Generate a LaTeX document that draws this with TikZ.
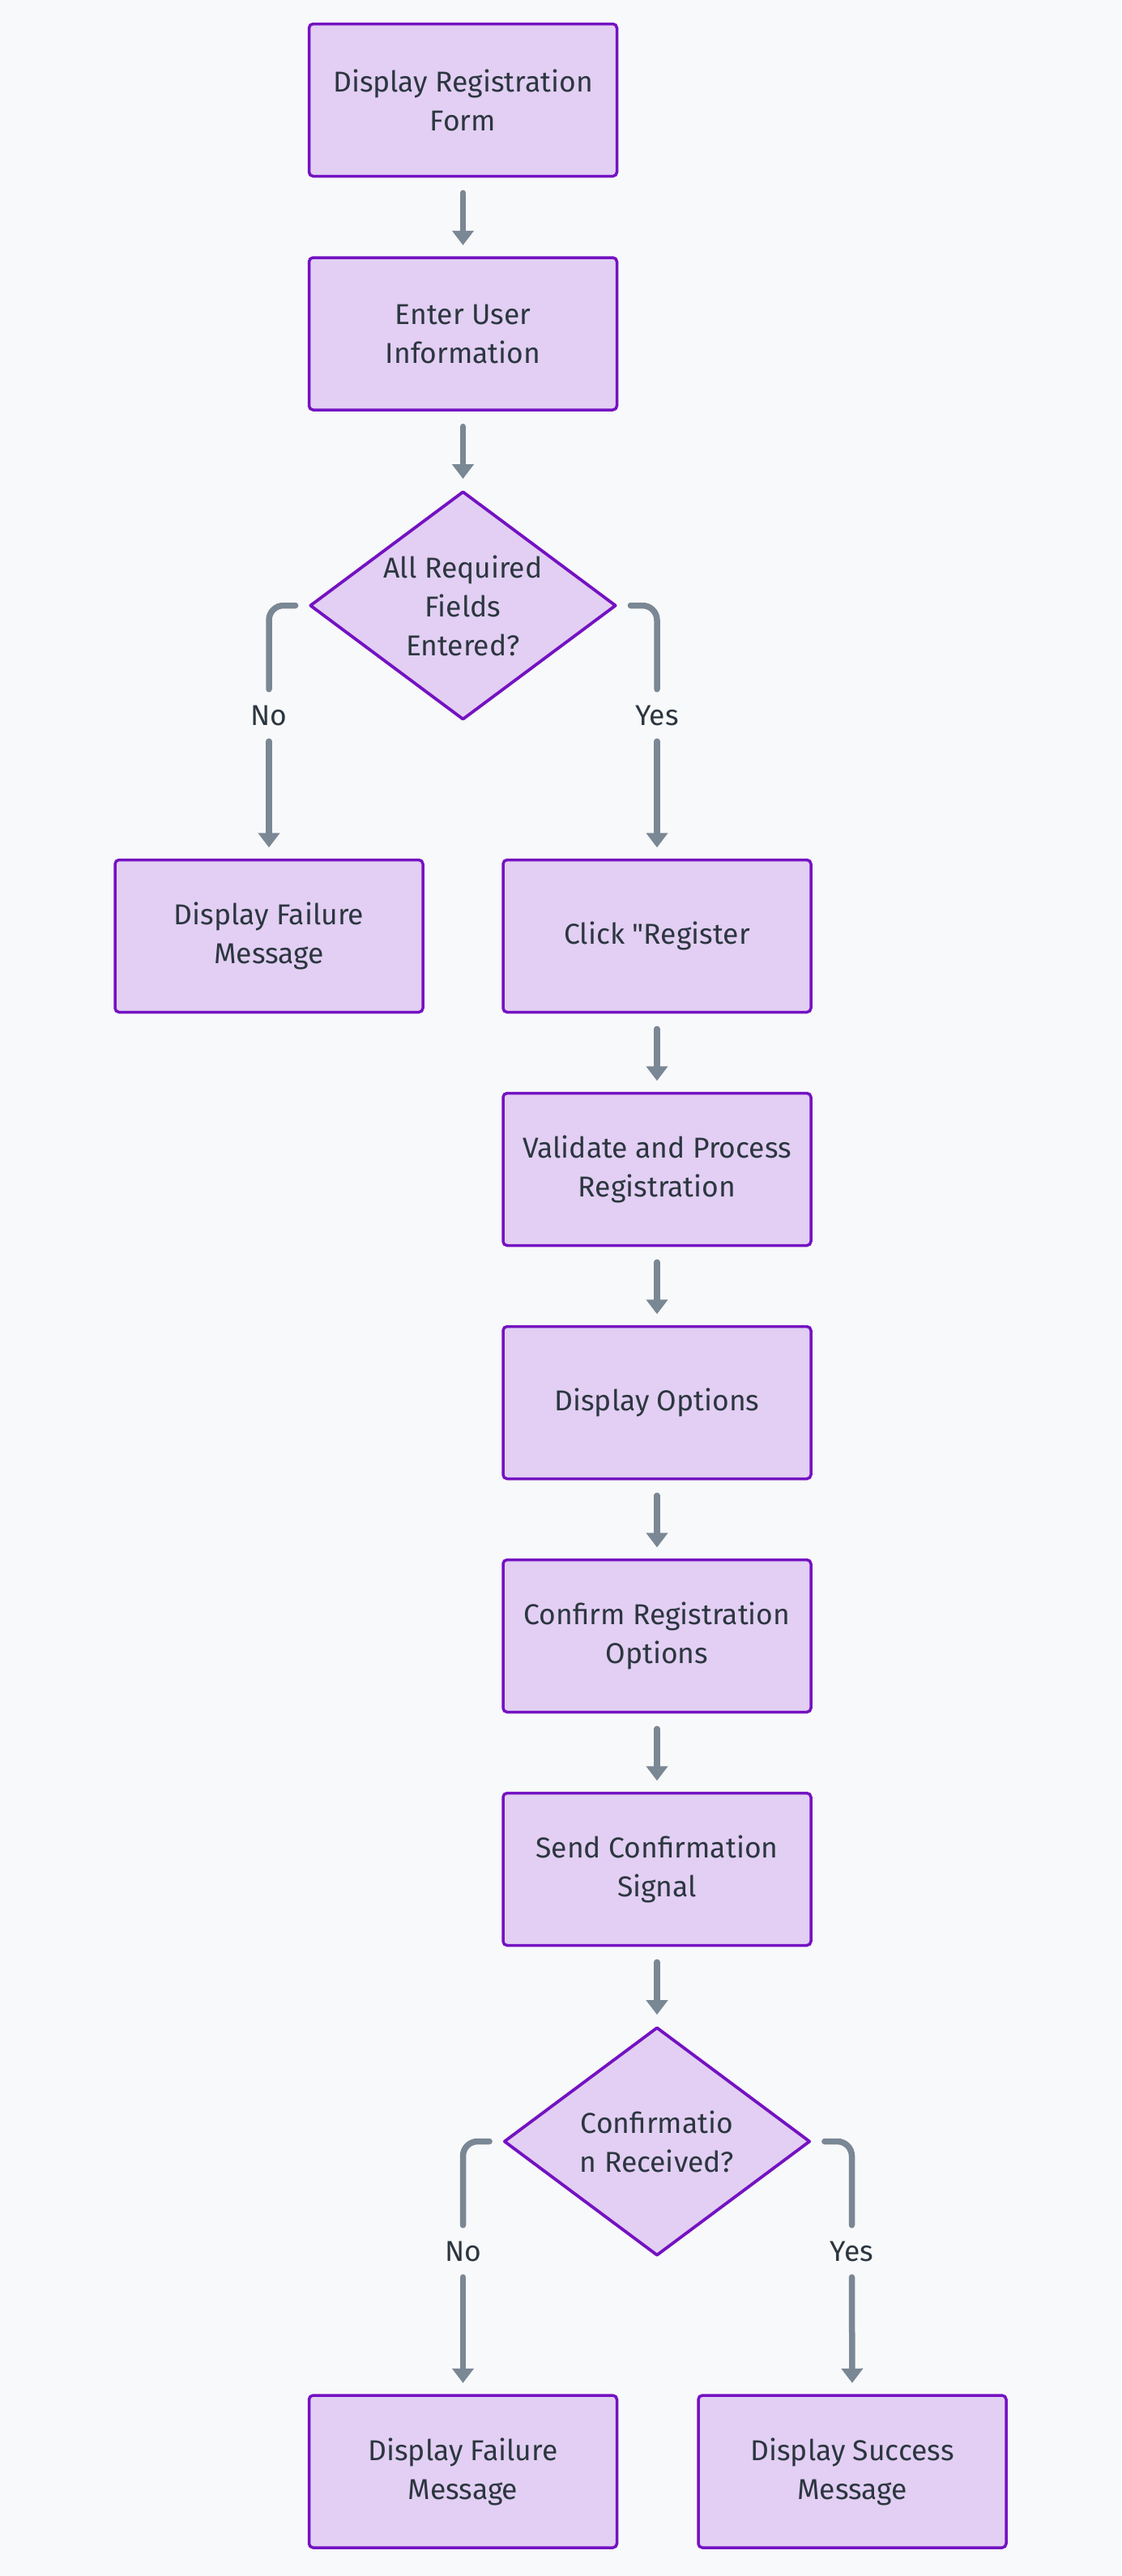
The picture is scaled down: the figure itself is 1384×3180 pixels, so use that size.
\documentclass[tikz,border=0pt]{standalone}
\usepackage{fontspec}
\setmainfont{Fira Sans}[Ligatures=TeXOff]
\usetikzlibrary{arrows.meta,shapes.geometric}
\definecolor{bg}{HTML}{F8F9FA}
\definecolor{boxfill}{HTML}{E2CFF3}
\definecolor{boxdraw}{HTML}{7412C2}
\definecolor{edge}{HTML}{7A8794}
\definecolor{ink}{HTML}{2C3640}
\begin{document}
\begin{tikzpicture}[x=1pt,y=-1pt,
  every node/.style={font=\fontsize{35.5}{48}\selectfont, text=ink},
  proc/.style={draw=boxdraw, fill=boxfill, line width=3.5pt, rounded corners=5pt,
    minimum width=380pt, minimum height=188pt, align=center, inner sep=0pt},
  decision/.style={diamond, draw=boxdraw, fill=boxfill, line width=3.8pt, line join=round,
    minimum width=378pt, minimum height=282pt, inner sep=0pt},
  dtext/.style={align=center, inner sep=0pt},
  conn/.style={draw=edge, line width=7.5pt, line cap=round, rounded corners=18pt},
  arr/.style={conn, -{Triangle[width=26pt,length=18pt]}, shorten >=13.5pt},
  flow/.style={arr, shorten <=19pt},
  elabel/.style={inner sep=0pt, minimum height=64pt},
]
\fill[bg] (0,0) rectangle (1384,3180);
\useasboundingbox (0,0) rectangle (1384,3180);

% nodes
\node[proc] (B1) at (571.5,123.5) {Display Registration\\Form};
\node[proc] (B2) at (571.5,412) {Enter User\\Information};
\node[decision] (D1) at (571.5,747.5) {};
\node[dtext] (D1t) at (D1.center) {All Required\\Fields\\Entered?};
\node[proc] (F1) at (332,1155.5) {Display Failure\\Message};
\node[proc] (C1) at (811,1155.5) {Click "Register};
\node[proc] (V1) at (811,1443.5) {Validate and Process\\Registration};
\node[proc] (O1) at (811,1731.5) {Display Options};
\node[proc] (R1) at (811,2019.5) {Confirm Registration\\Options};
\node[proc] (S1) at (811,2307.5) {Send Confirmation\\Signal};
\node[decision] (D2) at (811,2643.5) {};
\node[dtext] (D2t) at (D2.center) {Confirmatio\\n Received?};
\node[proc] (F2) at (571.5,3051) {Display Failure\\Message};
\node[proc] (M1) at (1052,3051) {Display Success\\Message};

% edge labels
\node[elabel] (no1) at (332,883) {No};
\node[elabel] (yes1) at (811,883) {Yes};
\node[elabel] (no2) at (571.5,2779) {No};
\node[elabel] (yes2) at (1051.5,2779) {Yes};

% connectors
\draw[flow] (B1.south) -- (B2.north);
\draw[flow] (B2.south) -- (D1.north);
\draw[conn, shorten <=16pt] (D1.west) -| (no1.north);
\draw[arr] (no1.south) -- (F1.north);
\draw[conn, shorten <=16pt] (D1.east) -| (yes1.north);
\draw[arr] (yes1.south) -- (C1.north);
\draw[flow] (C1.south) -- (V1.north);
\draw[flow] (V1.south) -- (O1.north);
\draw[flow] (O1.south) -- (R1.north);
\draw[flow] (R1.south) -- (S1.north);
\draw[flow] (S1.south) -- (D2.north);
\draw[conn, shorten <=16pt] (D2.west) -| (no2.north);
\draw[arr] (no2.south) -- (F2.north);
\draw[conn, shorten <=16pt] (D2.east) -| (yes2.north);
\draw[arr] (yes2.south) -- (M1.north);
\end{tikzpicture}
\end{document}
